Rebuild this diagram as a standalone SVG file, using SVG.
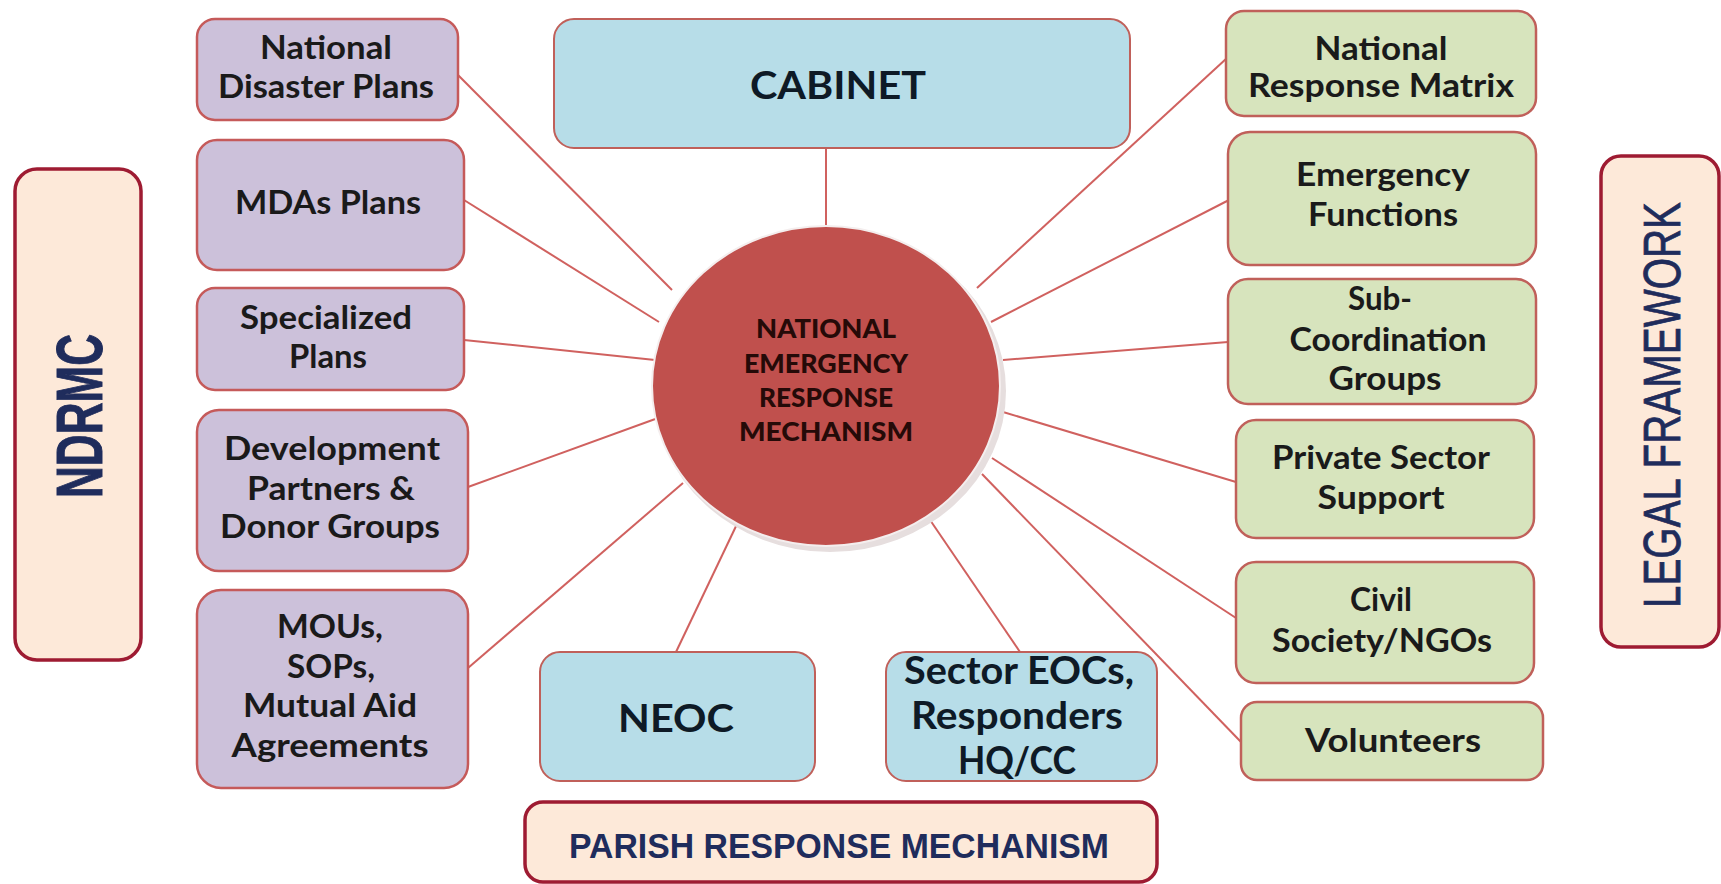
<svg xmlns="http://www.w3.org/2000/svg" width="1721" height="884" viewBox="0 0 1721 884">
<style>
.bg{fill:#ffffff}
.purple{fill:#ccc1da;stroke:#c55a5a;stroke-width:2.5}
.green{fill:#d7e4bd;stroke:#c0605a;stroke-width:2.5}
.blue{fill:#b7dde8;stroke:#c0605a;stroke-width:2}
.pink{fill:#fde9d9;stroke:#9e1b32;stroke-width:3.5}
.conn line{stroke:#d0615f;stroke-width:2}
.t{font-family:Lato,"Open Sans",sans-serif;font-weight:700;font-size:33px;fill:#1a1a1a;text-anchor:middle}
.tb{font-family:Lato,"Open Sans",sans-serif;font-weight:700;font-size:38px;fill:#0e1a26;text-anchor:middle}
.tc{font-family:Lato,"Open Sans",sans-serif;font-weight:900;font-size:27px;fill:#250a08;text-anchor:middle}
.ta{font-family:"Liberation Sans",Arial,sans-serif;fill:#1f2c5c;text-anchor:middle}
</style>
<rect class="bg" x="0" y="0" width="1721" height="884"/>

<g id="connectors" class="conn">
<line x1="826" y1="148" x2="826" y2="226"/>
<line x1="458" y1="75" x2="672" y2="290"/>
<line x1="464" y1="200" x2="659" y2="322"/>
<line x1="464" y1="340" x2="655" y2="360"/>
<line x1="468" y1="487" x2="658" y2="418"/>
<line x1="468" y1="668" x2="683" y2="483"/>
<line x1="738" y1="522" x2="676" y2="652"/>
<line x1="928" y1="517" x2="1020" y2="652"/>
<line x1="977" y1="288" x2="1227" y2="58"/>
<line x1="991" y1="322" x2="1229" y2="200"/>
<line x1="1003" y1="360" x2="1228" y2="342"/>
<line x1="1003" y1="412" x2="1236" y2="482"/>
<line x1="992" y1="458" x2="1236" y2="618"/>
<line x1="982" y1="474" x2="1241" y2="742"/>
</g>

<g id="ndrmc">
<rect class="pink" x="15" y="169" width="126" height="491" rx="22"/>
<text class="ta" font-weight="700" font-size="64" textLength="164" lengthAdjust="spacingAndGlyphs" transform="translate(102,416) rotate(-90)" x="0" y="0" stroke="#1f2c5c" stroke-width="1">NDRMC</text>
</g>

<g id="legal-framework">
<rect class="pink" x="1601" y="156" width="118" height="491" rx="20"/>
<text class="ta" font-size="52" textLength="406" lengthAdjust="spacingAndGlyphs" transform="translate(1680,405) rotate(-90)" x="0" y="0" stroke="#1f2c5c" stroke-width="0.8">LEGAL FRAMEWORK</text>
</g>

<g id="cabinet">
<rect class="blue" x="554" y="19" width="576" height="129" rx="20"/>
<text class="tb" x="838" y="99" textLength="176" lengthAdjust="spacingAndGlyphs">CABINET</text>
</g>

<g id="center">
<ellipse cx="830" cy="391" rx="176" ry="161" fill="#e6dede"/>
<ellipse cx="826" cy="386" rx="174" ry="160" fill="#c0504d" stroke="#f4eeee" stroke-width="2"/>
<text class="tc" x="826" y="338" textLength="140" lengthAdjust="spacingAndGlyphs">NATIONAL</text>
<text class="tc" x="826" y="373" textLength="164" lengthAdjust="spacingAndGlyphs">EMERGENCY</text>
<text class="tc" x="826" y="407" textLength="134" lengthAdjust="spacingAndGlyphs">RESPONSE</text>
<text class="tc" x="826" y="441" textLength="174" lengthAdjust="spacingAndGlyphs">MECHANISM</text>
</g>

<g id="national-disaster-plans">
<rect class="purple" x="197" y="19" width="261" height="101" rx="18"/>
<text class="t" x="326" y="59" textLength="132" lengthAdjust="spacingAndGlyphs">National</text>
<text class="t" x="326" y="98" textLength="216" lengthAdjust="spacingAndGlyphs">Disaster Plans</text>
</g>

<g id="mdas-plans">
<rect class="purple" x="197" y="140" width="267" height="130" rx="20"/>
<text class="t" x="328" y="214" textLength="186" lengthAdjust="spacingAndGlyphs">MDAs Plans</text>
</g>

<g id="specialized-plans">
<rect class="purple" x="197" y="288" width="267" height="102" rx="18"/>
<text class="t" x="326" y="329" textLength="172" lengthAdjust="spacingAndGlyphs">Specialized</text>
<text class="t" x="328" y="368" textLength="78" lengthAdjust="spacingAndGlyphs">Plans</text>
</g>

<g id="development-partners">
<rect class="purple" x="197" y="410" width="271" height="161" rx="22"/>
<text class="t" x="332" y="460" textLength="216" lengthAdjust="spacingAndGlyphs">Development</text>
<text class="t" x="331" y="500" textLength="168" lengthAdjust="spacingAndGlyphs">Partners &amp;</text>
<text class="t" x="330" y="538" textLength="220" lengthAdjust="spacingAndGlyphs">Donor Groups</text>
</g>

<g id="mous">
<rect class="purple" x="197" y="590" width="271" height="198" rx="24"/>
<text class="t" x="330" y="638" textLength="106" lengthAdjust="spacingAndGlyphs">MOUs,</text>
<text class="t" x="331" y="678" textLength="88" lengthAdjust="spacingAndGlyphs">SOPs,</text>
<text class="t" x="330" y="717" textLength="174" lengthAdjust="spacingAndGlyphs">Mutual Aid</text>
<text class="t" x="330" y="757" textLength="197" lengthAdjust="spacingAndGlyphs">Agreements</text>
</g>

<g id="neoc">
<rect class="blue" x="540" y="652" width="275" height="129" rx="20"/>
<text class="tb" x="676" y="732" textLength="116" lengthAdjust="spacingAndGlyphs">NEOC</text>
</g>

<g id="sector-eocs">
<rect class="blue" x="886" y="652" width="271" height="129" rx="20"/>
<text class="tb" x="1019" y="684" textLength="230" lengthAdjust="spacingAndGlyphs">Sector EOCs,</text>
<text class="tb" x="1017" y="729" textLength="212" lengthAdjust="spacingAndGlyphs">Responders</text>
<text class="tb" x="1017" y="774" textLength="118" lengthAdjust="spacingAndGlyphs">HQ/CC</text>
</g>

<g id="parish">
<rect class="pink" x="525" y="802" width="632" height="80" rx="18"/>
<text class="ta" font-weight="700" font-size="35" x="839" y="858" textLength="540" lengthAdjust="spacingAndGlyphs">PARISH RESPONSE  MECHANISM</text>
</g>

<g id="national-response-matrix">
<rect class="green" x="1226" y="11" width="310" height="105" rx="18"/>
<text class="t" x="1381" y="60" textLength="133" lengthAdjust="spacingAndGlyphs">National</text>
<text class="t" x="1381" y="97" textLength="266" lengthAdjust="spacingAndGlyphs">Response Matrix</text>
</g>

<g id="emergency-functions">
<rect class="green" x="1228" y="132" width="308" height="133" rx="22"/>
<text class="t" x="1383" y="186" textLength="174" lengthAdjust="spacingAndGlyphs">Emergency</text>
<text class="t" x="1383" y="226" textLength="150" lengthAdjust="spacingAndGlyphs">Functions</text>
</g>

<g id="sub-coordination-groups">
<rect class="green" x="1228" y="279" width="308" height="125" rx="20"/>
<text class="t" x="1380" y="310" textLength="64" lengthAdjust="spacingAndGlyphs">Sub-</text>
<text class="t" x="1388" y="351" textLength="197" lengthAdjust="spacingAndGlyphs">Coordination</text>
<text class="t" x="1385" y="390" textLength="113" lengthAdjust="spacingAndGlyphs">Groups</text>
</g>

<g id="private-sector-support">
<rect class="green" x="1236" y="420" width="298" height="118" rx="20"/>
<text class="t" x="1381" y="469" textLength="218" lengthAdjust="spacingAndGlyphs">Private Sector</text>
<text class="t" x="1381" y="509" textLength="127" lengthAdjust="spacingAndGlyphs">Support</text>
</g>

<g id="civil-society">
<rect class="green" x="1236" y="562" width="298" height="121" rx="20"/>
<text class="t" x="1381" y="611" textLength="62" lengthAdjust="spacingAndGlyphs">Civil</text>
<text class="t" x="1382" y="652" textLength="220" lengthAdjust="spacingAndGlyphs">Society/NGOs</text>
</g>

<g id="volunteers">
<rect class="green" x="1241" y="702" width="302" height="78" rx="16"/>
<text class="t" x="1393" y="752" textLength="176" lengthAdjust="spacingAndGlyphs">Volunteers</text>
</g>
</svg>
